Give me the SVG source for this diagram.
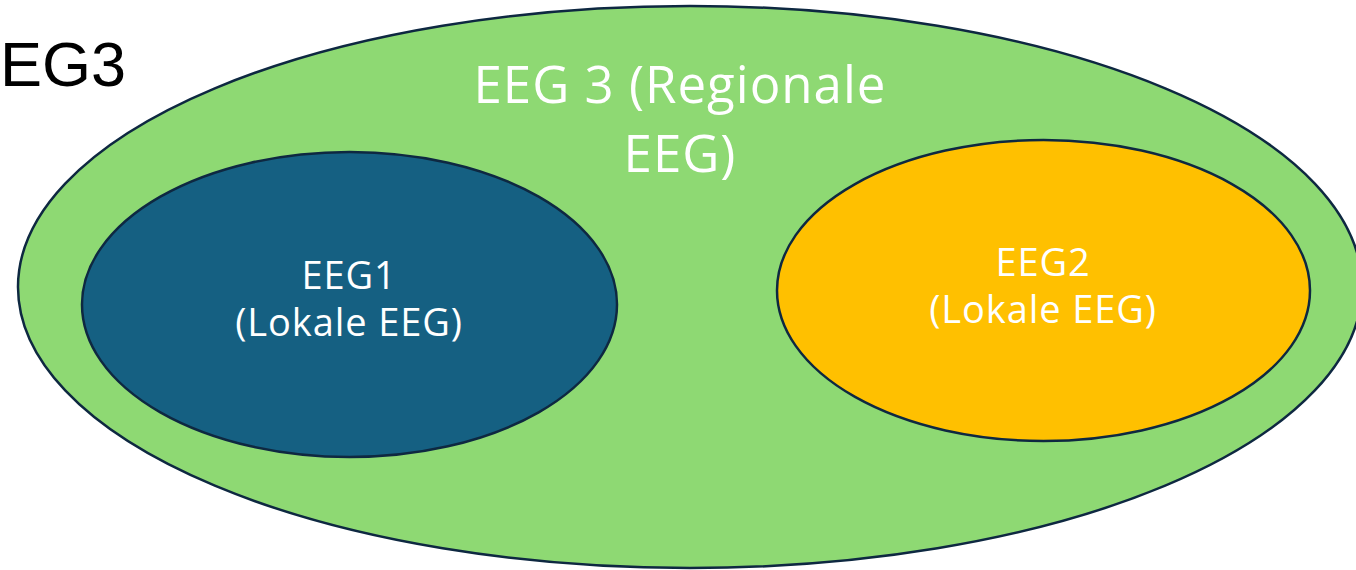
<svg xmlns="http://www.w3.org/2000/svg" width="1356" height="570" viewBox="0 0 1356 570">
<style>
.ell{stroke:#0E2841;stroke-width:2.5}
.lbl{font-family:"Open Sans","Noto Sans",sans-serif;fill:#ffffff;text-anchor:middle}
</style>
<rect width="1356" height="570" fill="#ffffff"/>
<text x="0" y="86" font-family="Liberation Sans, Arial, sans-serif" font-size="63" fill="#000000">EG3</text>
<g id="eeg3">
<ellipse class="ell" cx="690" cy="287" rx="672" ry="281" fill="#8ED973"/>
<text class="lbl" font-size="51" letter-spacing="1"><tspan x="680" y="103">EEG 3 (Regionale</tspan><tspan x="680" y="172">EEG)</tspan></text>
</g>
<g id="eeg1">
<ellipse class="ell" cx="349.5" cy="304.5" rx="267.5" ry="152.5" fill="#156082"/>
<text class="lbl" font-size="38" letter-spacing="0.9"><tspan x="349" y="289">EEG1</tspan><tspan x="349" y="336">(Lokale EEG)</tspan></text>
</g>
<g id="eeg2">
<ellipse class="ell" cx="1043.5" cy="290.5" rx="266.5" ry="150.5" fill="#FFC000"/>
<text class="lbl" font-size="38" letter-spacing="0.9"><tspan x="1043" y="276">EEG2</tspan><tspan x="1043" y="323">(Lokale EEG)</tspan></text>
</g>
<g id="connectors"></g>
</svg>
